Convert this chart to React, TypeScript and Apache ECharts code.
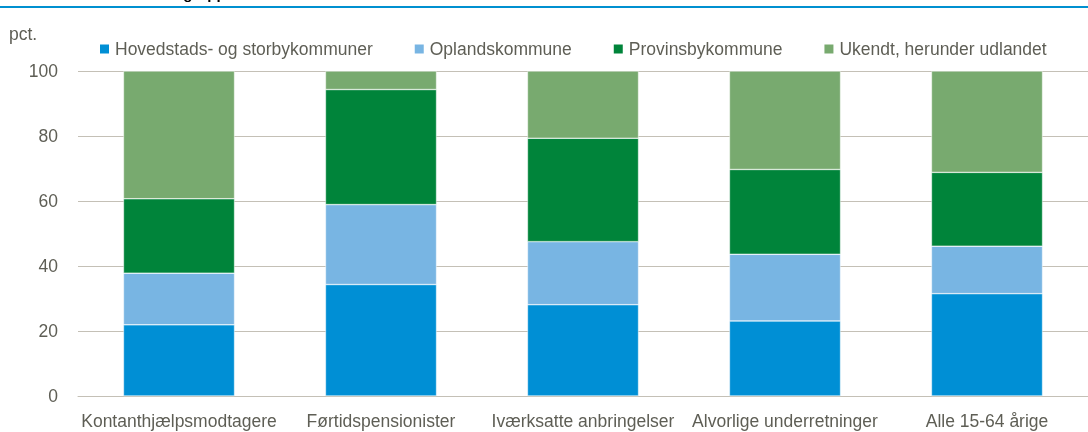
import React, { useEffect, useRef } from "react";
import * as echarts from "echarts";

const categories = [
  "Kontanthjælpsmodtagere",
  "Førtidspensionister",
  "Iværksatte anbringelser",
  "Alvorlige underretninger",
  "Alle 15-64 årige",
];
const seriesNames = [
  "Hovedstads- og storbykommuner",
  "Oplandskommune",
  "Provinsbykommune",
  "Ukendt, herunder udlandet",
];
const hovedstad = [21.9, 34.3, 28.1, 23.1, 31.5];
const opland = [15.9, 24.6, 19.4, 20.5, 14.6];
const provinsby = [22.9, 35.4, 31.8, 26.1, 22.7];
const ukendt = [39.3, 5.7, 20.7, 30.3, 31.2];
const yTicks = [0, 20, 40, 60, 80, 100];

const colors = ["#008fd5", "#78b5e3", "#00843a", "#78aa6f"];
const textColor = "#5e5e55";
const gridColor = "#c4c0b6";
const font = "Liberation Sans, Arial, sans-serif";

export default function App() {
  const ref = useRef<HTMLDivElement>(null);
  useEffect(() => {
    if (!ref.current) return;
    const chart = echarts.init(ref.current, null, { renderer: "svg" });
    const data = [hovedstad, opland, provinsby, ukendt];
    chart.setOption({
      animation: false,
      textStyle: { fontFamily: font },
      graphic: [
        {
          type: "text",
          x: -21,
          y: 1,
          z: 10,
          style: {
            text: "Andel fordelt efter kommunegrupper",
            fontFamily: font,
            fontSize: 15,
            fontWeight: "bold",
            fill: "#000",
            align: "left",
            verticalAlign: "bottom",
          },
        },
        {
          type: "rect",
          left: 0,
          top: 6,
          z: 10,
          shape: { width: 1088, height: 2 },
          style: { fill: "#0090d0" },
        },
        {
          type: "text",
          left: 9,
          top: 25,
          style: {
            text: "pct.",
            fontFamily: font,
            fontSize: 17.5,
            fill: textColor,
          },
        },
      ],
      legend: {
        left: 93,
        top: 35,
        itemWidth: 11,
        itemHeight: 11,
        itemGap: 40,
        icon: "rect",
        data: seriesNames,
        textStyle: { color: textColor, fontSize: 17.5, fontFamily: font },
      },
      grid: { left: 78, right: -10, top: 71, bottom: 36, containLabel: false },
      xAxis: {
        type: "category",
        data: categories,
        axisLine: { lineStyle: { color: gridColor, width: 1 } },
        axisTick: { show: false },
        axisLabel: { color: textColor, fontSize: 17.5, margin: 16, interval: 0 },
      },
      yAxis: {
        type: "value",
        min: yTicks[0],
        max: yTicks[yTicks.length - 1],
        interval: 20,
        axisLine: { show: false },
        axisTick: { show: false },
        axisLabel: { color: textColor, fontSize: 17.5, margin: 20 },
        splitLine: { lineStyle: { color: gridColor, width: 1 } },
      },
      series: seriesNames.map((name, i) => ({
        name,
        type: "bar",
        stack: "total",
        barWidth: "55%",
        data: data[i],
        itemStyle: { color: colors[i], borderColor: "#ffffff", borderWidth: 0.5 },
      })),
    });
    return () => chart.dispose();
  }, []);
  return (
    <div
      style={{
        position: "fixed",
        left: 0,
        top: 0,
        width: 1088,
        height: 432,
        overflow: "hidden",
      }}
    >
      <div ref={ref} style={{ width: 1088, height: 432 }} />
    </div>
  );
}
